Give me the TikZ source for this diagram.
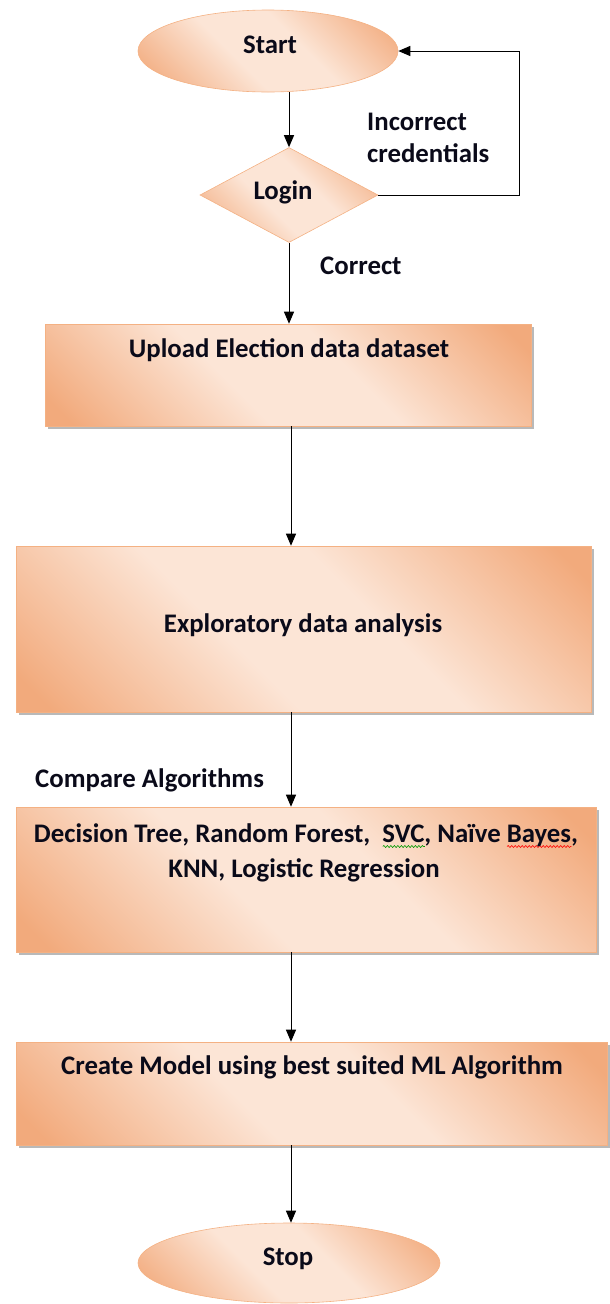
\documentclass[tikz,border=0pt]{standalone}
\usepackage{fontspec}
\setmainfont{Carlito}
\usetikzlibrary{shapes.geometric,arrows.meta,shadows,calc,decorations.pathmorphing}
\definecolor{orD}{RGB}{242,170,124}
\definecolor{orL}{RGB}{252,229,214}
\definecolor{orB}{RGB}{244,177,131}
\definecolor{ink}{RGB}{10,10,25}
\pgfdeclarehorizontalshading{peach}{100bp}{color(0bp)=(orD); color(18bp)=(orD); color(42bp)=(orL); color(58bp)=(orL); color(82bp)=(orD); color(100bp)=(orD)}
\newlength\wavylen
\newcommand\wavy[2]{\settowidth\wavylen{#2}\leavevmode\rlap{\raisebox{-4.5pt}{\tikz[x=1pt,y=1pt,baseline=0pt]\draw[#1, line width=0.6pt, decorate, decoration={snake, amplitude=1pt, segment length=3.5pt}] (0,0) -- (\wavylen,0);}}#2}
\tikzset{
  box/.style={rectangle, draw=orB, line width=0.6pt, shading=peach, shading angle=45, inner sep=0pt,
    drop shadow={shadow xshift=2.5pt, shadow yshift=-2.5pt, fill=black!50, opacity=0.55}},
  term/.style={ellipse, draw=orB, line width=0.6pt, shading=peach, shading angle=45, inner sep=0pt},
  dec/.style={diamond, draw=orB, line width=0.6pt, shading=peach, shading angle=45, inner sep=0pt},
  txt/.style={font=\bfseries\fontsize{26.8}{35}\selectfont, text=ink, inner sep=0pt},
  arr/.style={-{Triangle[length=12pt,width=10pt]}, line width=1pt, black},
}
\begin{document}
\begin{tikzpicture}[x=1pt,y=-1pt]
\useasboundingbox (0,0) rectangle (610,1304);
% shapes
\node[term, minimum width=260pt, minimum height=82pt] (start) at (268,51) {};
\node[dec, minimum width=178pt, minimum height=95pt] (login) at (289,195) {};
\node[box, minimum width=486pt, minimum height=102pt] (upload) at (288,375) {};
\node[box, minimum width=575pt, minimum height=166pt] (explore) at (303.5,629) {};
\node[box, minimum width=580pt, minimum height=145pt] (algos) at (306,879.5) {};
\node[box, minimum width=591pt, minimum height=103pt] (create) at (311.5,1093.5) {};
\node[term, minimum width=302pt, minimum height=80pt] (stop) at (289,1263) {};
% texts
\node[txt, anchor=base] (starttxt) at (270,53) {Start};
\node[txt, anchor=base] (logintxt) at (283,199) {Login};
\node[txt, anchor=base west, align=left] (inc1) at (367,130) {Incorrect};
\node[txt, anchor=base west, align=left] (inc2) at (367,162) {credentials};
\node[txt, anchor=base west] (correct) at (320,274) {Correct};
\node[txt, anchor=base] (uploadtxt) at (289,357) {Upload Election data dataset};
\node[txt, anchor=base] (exploretxt) at (303,632) {Exploratory data analysis};
\node[txt, anchor=base west] (compare) at (35,787) {Compare Algorithms};
\node[txt, anchor=base] (algos1) at (306,842) {Decision Tree, Random Forest,\ \ \wavy{green!60!black}{SVC}, Na\"ive \wavy{red}{Bayes},};
\node[txt, anchor=base] (algos2) at (304,877) {KNN, Logistic Regression};
\node[txt, anchor=base] (createtxt) at (312,1074) {Create Model using best suited ML Algorithm};
\node[txt, anchor=base] (stoptxt) at (288,1265) {Stop};
% connectors
\coordinate (col) at (291,0);
\coordinate (loopx) at (519,0);
\draw[arr] (login.north |- start.south) -- (login.north);
\draw[arr] (login.east) -| (loopx |- start.east) -- (start.east);
\draw[arr] (login.south) -- (login.south |- upload.north);
\draw[arr] (col |- upload.south) -- (col |- explore.north);
\draw[arr] (col |- explore.south) -- (col |- algos.north);
\draw[arr] (col |- algos.south) -- (col |- create.north);
\draw[arr] (col |- create.south) -- (col |- stop.north);
\end{tikzpicture}
\end{document}
